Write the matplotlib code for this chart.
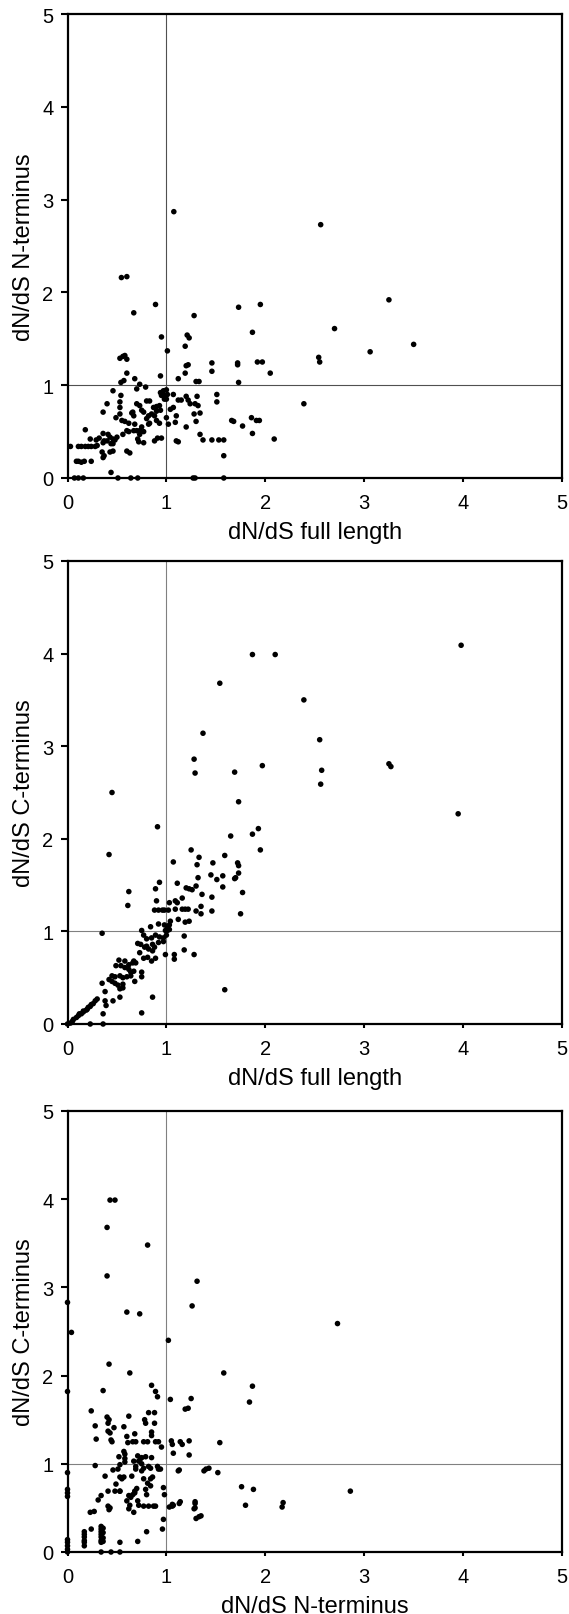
import matplotlib
matplotlib.use('Agg')
import matplotlib.pyplot as plt

plt.rcParams['font.family'] = ['Liberation Sans', 'DejaVu Sans']

# ---------------- Panel 1: full length vs N-terminus ----------------
p1_full = [0.95, 1.21, 1.23, 1.19, 1.01, 0.53, 0.56, 0.58, 0.60,
           1.20, 1.22, 1.19, 0.60, 0.94, 1.12, 1.30, 1.33, 0.68, 0.73, 0.54, 0.57, 0.79, 0.46, 0.54, 0.70,
           0.94, 0.97, 1.00, 0.95, 0.98, 1.01, 0.98, 1.00,
           1.07, 1.12, 1.15, 1.20, 1.22, 1.31, 1.24, 1.29, 1.32, 1.51, 1.51,
           0.40, 0.53, 0.70, 0.73, 0.80, 0.83, 0.53, 0.53, 0.65, 0.67, 0.66, 0.75, 0.77, 0.87, 0.90, 0.93,
           1.04, 1.07, 0.82, 0.85, 0.88, 0.90, 0.36, 0.49, 0.55, 0.58, 0.62, 0.68, 0.70, 0.73, 0.75, 0.77,
           0.73, 0.67, 0.80, 0.82, 0.83, 0.90, 0.93, 0.94, 1.00, 1.02, 1.10, 1.09, 1.28, 1.30, 1.20, 1.34,
           1.10, 1.12, 1.34, 1.37, 1.46, 1.53, 1.58, 1.58, 1.66, 1.68,
           0.18, 0.23, 0.29, 0.32, 0.36, 0.37, 0.40, 0.41, 0.43, 0.46, 0.48, 0.50, 0.46, 0.44, 0.36, 0.35,
           0.37, 0.36, 0.43, 0.46, 0.60, 0.63, 0.56, 0.60, 0.62, 0.71, 0.72, 0.77, 0.88, 0.91, 0.95,
           0.11, 0.14, 0.18, 0.21, 0.24, 0.28, 0.30, 0.03,
           0.09, 0.11, 0.14, 0.17, 0.24, 0.44,
           0.07, 0.11, 0.16, 0.51, 0.64, 0.71, 1.27, 1.29, 1.58,
           1.075, 2.56, 0.545, 0.60, 0.89, 0.67, 1.28, 1.73, 1.95, 3.25, 1.87, 2.70, 3.50, 3.06, 2.54, 2.55,
           1.92, 1.97, 2.05, 1.72, 1.72, 1.46, 1.46, 1.73, 2.39, 1.77, 1.86, 1.91, 1.94, 1.87, 2.09]
p1_nterm = [1.52, 1.54, 1.51, 1.42, 1.37, 1.29, 1.31, 1.32, 1.28,
            1.21, 1.22, 1.13, 1.13, 1.10, 1.07, 1.04, 1.04, 1.07, 1.01, 1.03, 1.05, 0.98, 0.94, 0.89, 0.96,
            0.92, 0.94, 0.95, 0.89, 0.89, 0.90, 0.85, 0.85,
            0.90, 0.84, 0.84, 0.88, 0.84, 0.88, 0.80, 0.80, 0.78, 0.90, 0.82,
            0.80, 0.82, 0.80, 0.78, 0.83, 0.83, 0.76, 0.69, 0.70, 0.67, 0.71, 0.73, 0.71, 0.76, 0.77, 0.78,
            0.74, 0.76, 0.67, 0.69, 0.67, 0.72, 0.71, 0.65, 0.62, 0.61, 0.59, 0.58, 0.51, 0.51, 0.55, 0.50,
            0.47, 0.51, 0.64, 0.58, 0.59, 0.62, 0.59, 0.73, 0.65, 0.58, 0.67, 0.60, 0.69, 0.61, 0.55, 0.70,
            0.40, 0.39, 0.47, 0.41, 0.41, 0.41, 0.41, 0.24, 0.62, 0.61,
            0.52, 0.42, 0.41, 0.43, 0.38, 0.40, 0.40, 0.47, 0.44, 0.42, 0.41, 0.44, 0.37, 0.37, 0.48, 0.28,
            0.24, 0.22, 0.28, 0.29, 0.29, 0.27, 0.47, 0.51, 0.50, 0.42, 0.39, 0.38, 0.40, 0.43, 0.43,
            0.34, 0.34, 0.34, 0.34, 0.34, 0.34, 0.35, 0.34,
            0.18, 0.18, 0.17, 0.18, 0.18, 0.06,
            0.0, 0.0, 0.0, 0.0, 0.0, 0.0, 0.0, 0.0, 0.0,
            2.87, 2.73, 2.16, 2.17, 1.87, 1.78, 1.75, 1.84, 1.87, 1.92, 1.57, 1.61, 1.44, 1.36, 1.30, 1.25,
            1.25, 1.25, 1.13, 1.24, 1.22, 1.24, 1.15, 1.03, 0.80, 0.56, 0.65, 0.62, 0.62, 0.48, 0.42]

# ---------------- Panel 2: full length vs C-terminus ----------------
p2_full = [3.98, 1.87, 2.10, 1.54, 2.39, 1.37, 2.55, 1.28, 1.29, 1.69, 1.97, 2.57, 2.56, 3.25, 3.27,
           0.45, 1.73, 3.95, 0.91, 1.87, 1.93, 1.95, 1.65, 0.42, 1.25, 1.59, 1.33, 1.07, 1.47, 1.31,
           1.72, 1.73, 1.45, 1.57, 1.73, 1.70, 1.69, 1.51, 1.32, 0.93, 1.11, 1.57, 1.77, 1.20, 1.23,
           1.26, 1.30, 0.62, 0.89, 1.36, 1.46, 1.16, 0.61, 0.90, 1.03, 1.09, 1.11,
           0.88, 0.92, 0.96, 0.98, 1.02, 1.09, 1.16, 1.19, 1.22, 1.30, 1.35, 1.35, 1.46, 1.75,
           1.12, 1.19, 1.23, 1.04, 1.03, 0.92, 0.98, 1.01, 0.99, 1.01, 1.03, 0.35, 0.75, 0.77, 0.84,
           0.89, 0.93, 0.97, 1.00, 1.18, 0.80, 0.85, 0.71, 0.74, 0.78, 0.80, 0.82, 0.86, 0.88, 0.92, 0.97,
           0.73, 0.86, 1.18, 0.77, 0.81, 0.85, 0.89, 0.99, 1.08, 1.08, 1.28,
           0.58, 0.62, 0.66, 0.67, 0.69, 0.52, 0.49, 0.54, 0.58, 0.62, 0.64, 0.67, 0.75, 0.75,
           0.45, 0.48, 0.53, 0.56, 0.60, 0.64, 0.68, 0.45, 0.48, 0.51, 0.56, 0.53, 0.56, 0.35, 0.42,
           0.38, 0.53, 0.46, 0.38, 0.39, 0.30, 0.28, 0.86, 1.59, 0.75, 0.36,
           0.03, 0.06, 0.09, 0.11, 0.14, 0.16, 0.19, 0.21, 0.24, 0.26, 0.05, 0.12, 0.16, 0.20, 0.23,
           0.23, 0.36, 0.0]
p2_cterm = [4.09, 3.99, 3.99, 3.68, 3.50, 3.14, 3.07, 2.86, 2.71, 2.72, 2.79, 2.74, 2.59, 2.81, 2.78,
            2.50, 2.40, 2.27, 2.13, 2.05, 2.11, 1.88, 2.03, 1.83, 1.88, 1.82, 1.80, 1.75, 1.74, 1.72,
            1.74, 1.71, 1.61, 1.60, 1.63, 1.58, 1.57, 1.56, 1.58, 1.53, 1.52, 1.48, 1.42, 1.47, 1.46,
            1.45, 1.49, 1.43, 1.46, 1.40, 1.37, 1.36, 1.28, 1.33, 1.31, 1.33, 1.31,
            1.23, 1.23, 1.23, 1.23, 1.23, 1.24, 1.24, 1.24, 1.24, 1.22, 1.27, 1.19, 1.22, 1.19,
            1.13, 1.10, 1.11, 1.11, 1.07, 1.08, 1.07, 1.04, 1.01, 1.01, 1.02, 0.98, 1.01, 0.96, 1.05,
            0.96, 0.94, 0.93, 0.96, 0.95, 0.92, 0.93, 0.87, 0.86, 0.83, 0.84, 0.81, 0.86, 0.83, 0.88, 0.89,
            0.77, 0.79, 0.80, 0.71, 0.72, 0.68, 0.71, 0.75, 0.75, 0.70, 0.75,
            0.68, 0.64, 0.66, 0.68, 0.66, 0.69, 0.63, 0.63, 0.61, 0.59, 0.56, 0.57, 0.56, 0.51,
            0.52, 0.51, 0.52, 0.50, 0.51, 0.52, 0.46, 0.46, 0.44, 0.42, 0.43, 0.38, 0.39, 0.44, 0.48,
            0.35, 0.29, 0.25, 0.25, 0.20, 0.27, 0.25, 0.29, 0.37, 0.12, 0.11,
            0.01, 0.05, 0.07, 0.09, 0.11, 0.13, 0.15, 0.18, 0.21, 0.22, 0.03, 0.11, 0.14, 0.16, 0.19,
            0.0, 0.0, 0.0]

# ---------------- Panel 3: N-terminus vs C-terminus ----------------
p3_nterm = [0.63, 0.0, 0.36, 0.85, 0.89, 0.91, 1.04, 0.24, 1.19, 1.22, 1.25, 0.40, 0.42, 0.41, 0.28,
            0.62, 0.82, 0.88, 0.78, 0.79, 0.88, 0.47, 0.41, 0.43, 0.57, 0.29, 0.44, 0.45, 0.60, 0.68,
            0.85, 0.85, 0.61, 0.66, 0.69, 0.77, 0.81, 0.89, 0.92, 1.05, 1.06, 1.14, 1.16, 1.23, 0.95,
            1.07, 1.23, 0.57, 0.58, 0.52, 0.58, 0.71, 0.75, 0.79, 0.85, 0.67, 0.72, 0.74, 0.28, 0.53,
            0.58, 0.69, 0.69, 0.75, 0.77, 0.75, 0.82, 0.84, 0.91, 0.92, 0.94, 0.46, 0.51, 1.13, 1.40,
            0.38, 0.53, 0.55, 0.57, 0.65, 0.77, 0.84, 0.86, 0.49, 0.53, 0.70, 0.68, 0.62, 0.66, 0.68,
            0.64, 0.81, 0.84, 0.79, 0.80, 0.97, 0.98, 0.41, 0.48, 0.53, 0.34, 0.31, 0.60, 0.63, 0.71,
            0.72, 0.62, 0.67, 0.41, 0.42, 0.43, 0.77, 0.82, 0.87, 0.89, 1.06, 1.07, 1.14, 1.29, 1.29,
            1.30, 1.33, 1.35, 0.23, 0.27, 0.97, 0.96, 0.80, 0.71, 0.53, 0.24,
            0.17, 0.17, 0.17, 0.17, 0.17, 0.17,
            0.34, 0.34, 0.34, 0.34, 0.34, 0.34, 0.34, 0.36, 0.36, 0.36, 0.36,
            0.0, 0.0, 0.0, 0.0, 0.0, 0.0, 0.0, 0.0, 0.0, 0.34, 0.44, 0.53,
            0.43, 0.48, 0.40, 0.81, 0.40, 1.31, 0.0, 0.60, 0.73, 1.26, 2.73, 0.04, 1.02, 0.42, 1.58,
            1.87, 1.84, 1.54, 1.12, 1.38, 1.43, 1.52, 1.76, 1.88, 1.80, 2.18, 2.17, 2.86, 1.29, 1.28,
            1.13, 1.03, 1.06]
p3_cterm = [2.03, 1.82, 1.83, 1.89, 1.82, 1.76, 1.73, 1.60, 1.62, 1.63, 1.74, 1.53, 1.50, 1.46, 1.43,
            1.54, 1.58, 1.58, 1.50, 1.46, 1.46, 1.41, 1.37, 1.35, 1.42, 1.28, 1.27, 1.25, 1.31, 1.34,
            1.32, 1.36, 1.24, 1.25, 1.25, 1.25, 1.25, 1.25, 1.25, 1.26, 1.22, 1.25, 1.22, 1.26, 1.19,
            1.12, 1.10, 1.14, 1.11, 1.08, 1.06, 1.09, 1.07, 1.08, 1.07, 1.03, 1.03, 1.06, 0.98, 0.99,
            1.02, 0.97, 0.94, 1.00, 0.95, 0.92, 0.97, 0.95, 0.97, 0.94, 0.94, 0.93, 0.94, 0.93, 0.94,
            0.86, 0.85, 0.83, 0.85, 0.86, 0.83, 0.83, 0.85, 0.77, 0.69, 0.72, 0.69, 0.64, 0.65, 0.67,
            0.62, 0.78, 0.75, 0.71, 0.65, 0.73, 0.65, 0.69, 0.69, 0.69, 0.64, 0.59, 0.58, 0.53, 0.58,
            0.53, 0.49, 0.45, 0.52, 0.48, 0.50, 0.52, 0.52, 0.52, 0.52, 0.54, 0.53, 0.57, 0.57, 0.50,
            0.38, 0.40, 0.41, 0.45, 0.46, 0.37, 0.26, 0.23, 0.12, 0.11, 0.26,
            0.23, 0.20, 0.17, 0.13, 0.11, 0.07,
            0.29, 0.26, 0.23, 0.20, 0.17, 0.13, 0.11, 0.27, 0.22, 0.16, 0.12,
            0.14, 0.11, 0.07, 0.03, 0.90, 0.71, 0.67, 0.63, 0.0, 0.0, 0.0, 0.0,
            3.99, 3.99, 3.68, 3.48, 3.13, 3.07, 2.83, 2.72, 2.70, 2.79, 2.59, 2.49, 2.40, 2.13, 2.03,
            1.88, 1.70, 1.24, 0.92, 0.92, 0.95, 0.90, 0.74, 0.71, 0.53, 0.56, 0.51, 0.69, 0.55, 0.49,
            0.55, 0.51, 0.52]

ticks = [0, 1, 2, 3, 4, 5]

W, H = 569.0, 1615.0
fig = plt.figure(figsize=(W / 100, H / 100), dpi=100)
fig.patch.set_facecolor('white')

panels = [
    (p1_full, p1_nterm, 'dN/dS full length', 'dN/dS N-terminus', 15, 479, '#505050'),
    (p2_full, p2_cterm, 'dN/dS full length', 'dN/dS C-terminus', 562, 1025, '#808080'),
    (p3_nterm, p3_cterm, 'dN/dS N-terminus', 'dN/dS C-terminus', 1112, 1553, '#808080'),
]

left_px, right_px = 67.5, 562.0
for xs, ys, xl, yl, top, bot, gc in panels:
    ax = fig.add_axes([left_px / W, 1 - bot / H, (right_px - left_px) / W, (bot - top) / H])
    ax.set_xlim(0, 5)
    ax.set_ylim(0, 5)
    ax.axvline(1, color=gc, lw=0.8, zorder=1)
    ax.axhline(1, color=gc, lw=0.8, zorder=1)
    ax.scatter(xs, ys, s=16, c='black', edgecolors='none', zorder=4, clip_on=False)
    ax.set_xticks(ticks)
    ax.set_yticks(ticks)
    for sp in ax.spines.values():
        sp.set_linewidth(1.6)
        sp.set_zorder(3)
    ax.tick_params(axis='y', direction='out', length=5, width=1.5, labelsize=14.5, pad=5)
    ax.tick_params(axis='x', direction='out', length=3, width=1.5, labelsize=14.5, pad=8)
    ax.set_xlabel(xl, fontsize=17)
    ax.set_ylabel(yl, fontsize=17)
    h = bot - top
    ax.xaxis.label.set_va('center')
    ax.xaxis.set_label_coords(0.5, -54.0 / h)
    ax.yaxis.label.set_va('center')
    ax.yaxis.set_label_coords((24 - left_px) / (right_px - left_px), 0.5)

fig.savefig('out.png', dpi=100)
